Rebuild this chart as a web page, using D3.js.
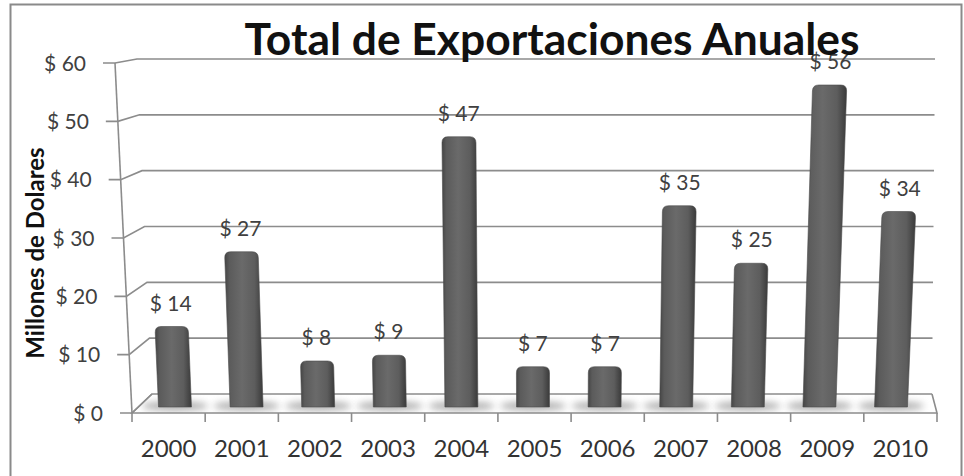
<!DOCTYPE html>
<html>
<head>
<meta charset="utf-8">
<script src="https://cdn.jsdelivr.net/npm/d3@7"></script>
<style>
  html, body { margin: 0; padding: 0; background: #fff; }
  svg { display: block; }
  text { font-family: Lato, "Open Sans", sans-serif; }
</style>
</head>
<body>
<svg id="chart" width="964" height="476"></svg>
<script>
// Annual export totals, millions of dollars
const years = ["2000", "2001", "2002", "2003", "2004", "2005", "2006", "2007", "2008", "2009", "2010"];
const exports = [14, 27, 8, 9, 47, 7, 7, 35, 25, 56, 34];
const yTicks = [0, 10, 20, 30, 40, 50, 60];
const titleText = "Total de Exportaciones Anuales";
const yAxisTitle = "Millones de Dolares";

const svg = d3.select("#chart");

// --- 3D frame geometry (front plane, back wall, bar plane) ---
const yFront = d3.scaleLinear().domain([0, 60]).range([413, 63]);   // front value axis
const yBack = d3.scaleLinear().domain([0, 60]).range([394, 59]);    // back wall gridlines
const yBar = d3.scaleLinear().domain([0, 60]).range([407, 62]);     // bar plane
const xFrontAxis = d3.scaleLinear().domain([0, 60]).range([132, 115]);
const xBackLeft = d3.scaleLinear().domain([0, 60]).range([152, 137]);
const xBackRight = d3.scaleLinear().domain([0, 60]).range([932, 935]);

const xFront = d3.scaleBand().domain(years).range([132, 937]);
const xBar = d3.scaleBand().domain(years).range([139.2, 926.8])
  .paddingInner(0.54).paddingOuter(0.27);

// slight perspective: vertical edges fan out as they rise
const vx = 541, k = 0.000115, baseY = yBar(0);
const lean = (x0, y) => vx + (x0 - vx) * (1 + k * (baseY - y));

const defs = svg.append("defs");
const grad = defs.append("linearGradient").attr("id", "barGrad")
  .attr("x1", "0%").attr("x2", "100%").attr("y1", "0%").attr("y2", "0%");
[[0, "#454545"], [0.12, "#5b5b5b"], [0.45, "#6a6a6a"], [0.78, "#5d5d5d"], [0.9, "#4a4a4a"], [1, "#3a3a3a"]]
  .forEach(([o, c]) => grad.append("stop").attr("offset", o).attr("stop-color", c));

defs.append("filter").attr("id", "soft").attr("x", "-50%").attr("y", "-200%")
  .attr("width", "200%").attr("height", "500%")
  .append("feGaussianBlur").attr("stdDeviation", 3.5);

const floorPts = [[xFrontAxis(0), yFront(0)], [xBackLeft(0), yBack(0)],
                  [xBackRight(0), yBack(0)], [937, yFront(0)]];
defs.append("clipPath").attr("id", "floorClip")
  .append("polygon").attr("points", floorPts.map(p => p.join(",")).join(" "));

// chart area border
svg.append("rect")
  .attr("x", 10.5).attr("y", 4.5).attr("width", 951).attr("height", 480)
  .attr("fill", "none").attr("stroke", "#8a8a8a").attr("stroke-width", 2);

const gridColor = "#8c8c8c";

// gridlines: side wall segment + back wall segment
const grid = svg.append("g").attr("fill", "none").attr("stroke", gridColor).attr("stroke-width", 1.6);
grid.selectAll("path.grid").data(yTicks).join("path")
  .attr("class", "grid")
  .attr("d", v => d3.line()([
    [xFrontAxis(v) - 12, yFront(v)],
    [xFrontAxis(v), yFront(v)],
    [xBackLeft(v), yBack(v)],
    [xBackRight(v), yBack(v)]
  ]));

// floor shadows under each column
svg.append("g").attr("clip-path", "url(#floorClip)")
  .selectAll("ellipse").data(years).join("ellipse")
  .attr("cx", d => xBar(d) + xBar.bandwidth() / 2)
  .attr("cy", yBar(0) - 1)
  .attr("rx", 33).attr("ry", 5)
  .attr("fill", "#8a8a8a").attr("opacity", 0.65)
  .attr("filter", "url(#soft)");

svg.append("path").attr("fill", "none").attr("stroke", gridColor).attr("stroke-width", 1.6)
  .attr("d", d3.line()([floorPts[1], floorPts[0], floorPts[3], floorPts[2]]));

// front value axis line
svg.append("line")
  .attr("x1", xFrontAxis(0)).attr("y1", yFront(0))
  .attr("x2", xFrontAxis(60)).attr("y2", yFront(60))
  .attr("stroke", gridColor).attr("stroke-width", 1.6);

// category ticks on the floor edge
const catTicks = years.map(d => xFront(d)).concat([xFront.range()[1]]);
svg.append("g").selectAll("line").data(catTicks).join("line")
  .attr("x1", d => d).attr("x2", d => d)
  .attr("y1", yFront(0)).attr("y2", yFront(0) + 9)
  .attr("stroke", gridColor).attr("stroke-width", 1.6);

// value tick labels
svg.append("g").selectAll("text").data(yTicks).join("text")
  .attr("x", v => xFrontAxis(v) - 29)
  .attr("y", v => yFront(v))
  .attr("dy", "0.36em")
  .attr("text-anchor", "end")
  .attr("font-size", 21)
  .attr("fill", "#404040")
  .text(v => "$ " + v);

// category labels
svg.append("g").selectAll("text").data(years).join("text")
  .attr("x", d => xFront(d) + xFront.bandwidth() / 2)
  .attr("y", 457)
  .attr("text-anchor", "middle")
  .attr("font-size", 24)
  .attr("fill", "#333")
  .text(d => d);

// bars
const r = 6;
function barPath(d, i) {
  const x0 = xBar(d), x1 = x0 + xBar.bandwidth();
  const yb = yBar(0), yt = yBar(exports[i]);
  const l0 = lean(x0, yb), r0 = lean(x1, yb);
  const lt = lean(x0, yt), rt = lean(x1, yt);
  const lr = lean(x0, yt + r), rr = lean(x1, yt + r);
  return `M${l0},${yb} L${lr},${yt + r} Q${lt},${yt} ${lt + r},${yt} ` +
         `L${rt - r},${yt} Q${rt},${yt} ${rr},${yt + r} L${r0},${yb} Z`;
}
svg.append("g").selectAll("path").data(years).join("path")
  .attr("d", barPath)
  .attr("fill", "url(#barGrad)")
  .attr("stroke", "#4a4a4a").attr("stroke-width", 0.6);

// value labels
svg.append("g").selectAll("text").data(years).join("text")
  .attr("x", (d, i) => {
    const c = xBar(d) + xBar.bandwidth() / 2;
    return lean(c, yBar(exports[i]) - 24);
  })
  .attr("y", (d, i) => yBar(exports[i]) - 16)
  .attr("text-anchor", "middle")
  .attr("font-size", 21)
  .attr("fill", "#404040")
  .text((d, i) => "$ " + exports[i]);

// axis title
svg.append("text")
  .attr("transform", "translate(44,253) rotate(-90)")
  .attr("text-anchor", "middle")
  .attr("font-size", 24)
  .attr("font-weight", "bold")
  .attr("fill", "#111")
  .text(yAxisTitle);

// chart title, sized to its span
const title = svg.append("text")
  .attr("x", 552).attr("y", 55)
  .attr("text-anchor", "middle")
  .attr("font-size", 42)
  .attr("font-weight", "bold")
  .attr("fill", "#111")
  .text(titleText);
const tl = title.node().getComputedTextLength();
title.attr("font-size", 42 * 615 / tl);
</script>
</body>
</html>
